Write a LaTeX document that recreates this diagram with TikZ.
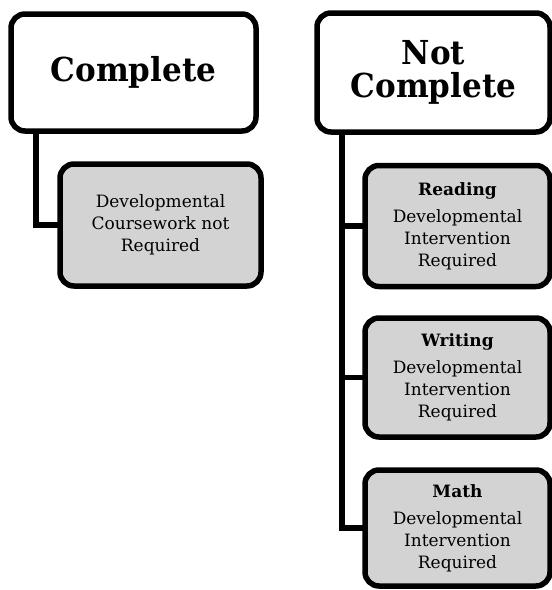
\documentclass[tikz,border=0pt]{standalone}
\usepackage{fontspec}
\setmainfont{DejaVu Serif}
\newfontfamily\headfont[FakeStretch=0.94]{DejaVu Serif}
\begin{document}
\begin{tikzpicture}[x=1pt,y=-1pt,
  box/.style={draw=black,line width=5.5pt,rounded corners=14pt,outer sep=0pt,inner sep=0pt,align=center},
  topbox/.style={box,fill=white,font=\headfont\fontsize{33}{33}\selectfont\bfseries},
  subbox/.style={box,fill=boxgray,font=\fontsize{17}{22}\selectfont},
  link/.style={line width=5.5pt,line join=miter}]
\definecolor{boxgray}{HTML}{D3D3D3}
\useasboundingbox (0,0) rectangle (552,590);
\begin{scope}
\clip (0,0) rectangle (552,590);
\node[topbox,minimum width=245pt,minimum height=117pt] (cb) at (133.5,72.5) {Complete};
\node[subbox,minimum width=201pt,minimum height=122pt] (dev) at (160.5,225) {Developmental\\Coursework not\\Required};
\node[topbox,minimum width=233pt,minimum height=119pt] (nc) at (433.5,72.5) {Not\\Complete};
\node[subbox,minimum width=185pt,minimum height=121pt] (rd) at (457.5,226) {\textbf{Reading}\\[5pt]Developmental\\Intervention\\Required};
\node[subbox,minimum width=185pt,minimum height=119pt] (wr) at (457.5,377.5) {\textbf{Writing}\\[5pt]Developmental\\Intervention\\Required};
\node[subbox,minimum width=185pt,minimum height=116pt] (mt) at (457.5,528) {\textbf{Math}\\[5pt]Developmental\\Intervention\\Required};
\draw[link] ([xshift=25pt]cb.south west) |- (dev.west);
\draw[link] ([xshift=25pt]nc.south west) |- (mt.west);
\draw[link] ([xshift=25pt]nc.south west) |- (rd.west);
\draw[link] ([xshift=25pt]nc.south west) |- (wr.west);
\end{scope}
\end{tikzpicture}
\end{document}
